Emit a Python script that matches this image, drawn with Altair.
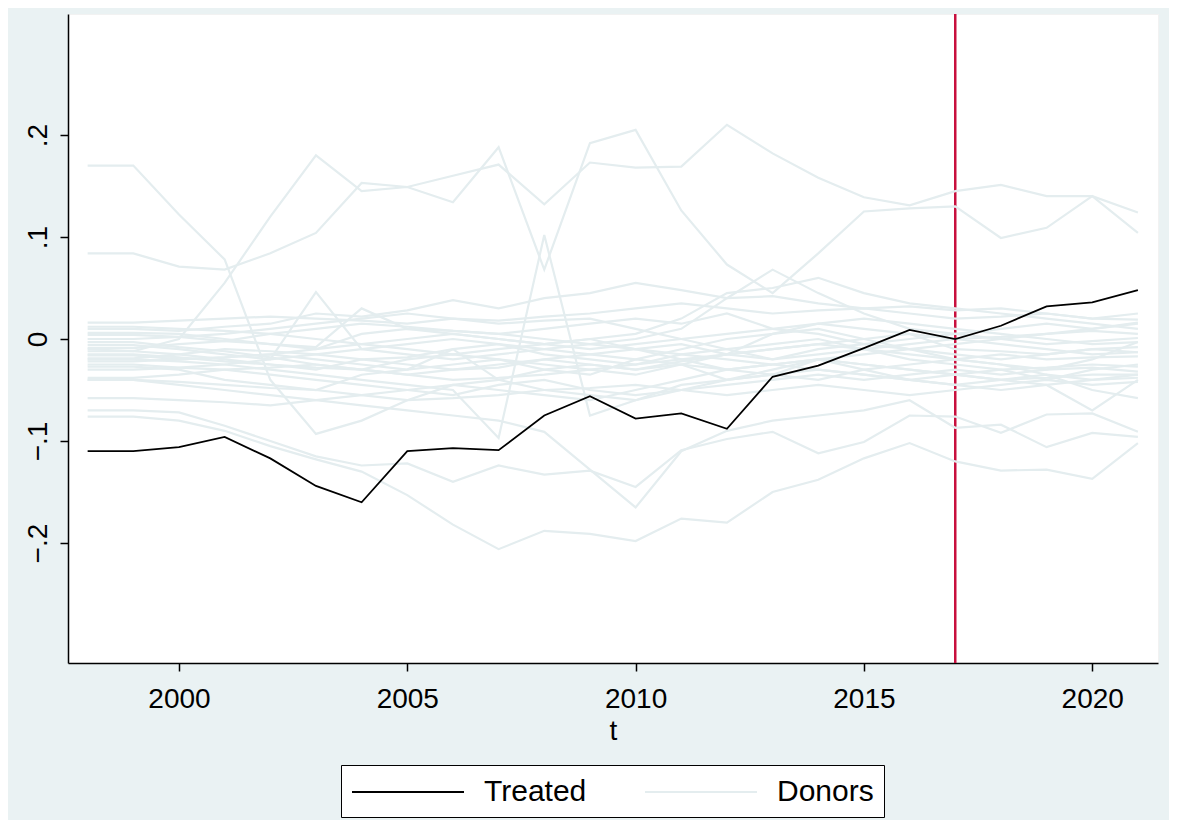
import altair as alt
import pandas as pd

years = list(range(1998, 2022))

treated = [-0.110, -0.110, -0.106, -0.096, -0.117, -0.144, -0.160, -0.110, -0.107, -0.109,
           -0.075, -0.056, -0.078, -0.073, -0.088, -0.037, -0.026, -0.009, 0.009, 0.000,
           0.013, 0.032, 0.036, 0.048]

# donor series (values x 1000)
donors_k = [
    [170, 170, 122, 78, -40, -93, -80, -60, -45, -40, -30, -25, -30, -25, -40, -35, -20, -30, -40, -35, -30, -40, -30, -25],
    [84, 84, 71, 68, 84, 104, 153, 149, 160, 171, 132, 173, 168, 169, 210, 182, 158, 139, 131, 145, 151, 140, 140, 124],
    [-10, -12, 0, 55, 120, 180, 145, 149, 134, 188, 68, 192, 205, 126, 73, 45, 84, 125, 128, 130, 99, 109, 140, 104],
    [-20, -20, -22, -25, -30, -35, -40, -45, -50, -97, 102, -75, -60, -50, -40, -35, -30, -35, -40, -45, -40, -35, -40, -38],
    [-76, -76, -80, -90, -105, -118, -130, -153, -182, -206, -188, -191, -198, -176, -180, -150, -138, -117, -102, -120, -129, -128, -137, -102],
    [-70, -70, -72, -85, -100, -115, -124, -122, -140, -124, -133, -129, -145, -109, -98, -91, -112, -101, -75, -76, -92, -74, -73, -91],
    [-40, -40, -45, -50, -55, -60, -65, -70, -75, -80, -91, -128, -165, -110, -90, -80, -75, -70, -60, -87, -84, -106, -92, -96],
    [16, 16, 18, 20, 22, 20, 18, 15, 20, 18, 22, 25, 30, 35, 30, 25, 28, 30, 25, 20, 22, 25, 20, 25],
    [10, 10, 8, 12, 15, 25, 22, 28, 38, 30, 40, 45, 55, 48, 40, 42, 35, 30, 32, 28, 30, 25, 20, 19],
    [6, 6, 5, 0, -5, -10, 5, 10, 8, 5, 0, -5, -10, -5, -15, -20, -10, -5, 0, 5, 10, 15, 10, 16],
    [-6, -6, -10, -15, -20, 46, -10, -15, -20, -15, -10, -5, 0, 10, 40, 68, 45, 25, 10, 5, 0, -5, -2, 1],
    [-9, -9, -5, -2, 5, 10, 15, 12, 8, 5, 10, 15, 20, 15, 25, 10, 5, -5, -10, -20, -25, -30, -20, -3],
    [-12, -12, -15, -20, -25, -30, -20, -25, -30, -28, -20, -25, -30, -22, -15, -10, -5, 0, 5, -10, -12, -15, -10, -13],
    [-16, -16, -20, -18, -15, -20, -25, -30, -25, -20, -30, -35, -20, -25, -30, -35, -40, -30, -25, -20, -15, -20, -18, -17],
    [-19, -19, -15, -10, -12, -15, -20, -18, -10, -5, -15, -20, -25, -15, -10, -5, 0, -10, -20, -25, -30, -28, -25, -27],
    [-25, -25, -28, -30, -35, -40, -45, -50, -55, -45, -40, -50, -55, -50, -45, -40, -35, -40, -35, -30, -35, -30, -28, -32],
    [-27, -27, -30, -40, -45, -50, -35, -30, -10, -40, -50, -55, -60, -45, -40, -30, -20, -25, -30, -35, -40, -45, -70, -40],
    [-38, -38, -35, -30, -28, -25, -30, -35, -40, -38, -35, -30, -25, -20, -15, -10, -5, -10, -15, -20, -25, -35, -50, -58],
    [-40, -40, -42, -45, -48, -50, -55, -60, -58, -55, -50, -48, -45, -50, -55, -50, -45, -50, -55, -50, -45, -40, -45, -42],
    [-58, -58, -60, -62, -65, -60, -55, -50, -45, -50, -55, -60, -50, -40, -30, -25, -20, -25, -30, -35, -40, -38, -35, -35],
    [0, 0, 2, 5, 10, 15, 20, 25, 20, 15, 18, 20, 10, 0, -10, -20, -15, -10, -5, 0, 2, 5, 8, 5],
    [-3, -3, -8, -12, -18, -25, -30, -20, -15, -20, -25, -30, -35, -25, -15, 5, 10, 0, -10, -15, -20, -15, -10, -8],
    [4, 4, 2, -2, -5, -8, 30, 10, 5, 0, -5, 0, 5, 20, 45, 50, 60, 45, 35, 30, 25, 20, 15, 10],
    [-30, -30, -28, -25, -20, -15, -10, -5, 0, -5, -10, -15, -20, -10, 0, 5, 15, 10, 5, 0, -5, -10, -15, -13],
    [-15, -15, -18, -22, -25, -28, -30, -35, -30, -25, -20, -15, -10, -15, -20, -25, -30, -35, -40, -45, -50, -45, -40, -35],
    [-22, -22, -20, -18, -15, -10, -5, 0, 5, 0, -5, -10, -5, 0, 5, 10, 15, 20, 15, 10, 5, 0, -5, -3],
    [12, 12, 10, 8, 5, 0, -5, -10, -15, -10, -5, 0, -10, -20, -30, -25, -20, -15, -10, -5, 0, 5, 10, 15],
]

treat_year = [2017]
y_ticks = [-0.2, -0.1, 0, 0.1, 0.2]
x_ticks = [2000, 2005, 2010, 2015, 2020]

rows = []
for i, series in enumerate(donors_k):
    for yr, v in zip(years, series):
        rows.append({"t": yr, "v": v / 1000.0, "unit": f"d{i}", "group": "Donors"})
donor_df = pd.DataFrame(rows)
treat_df = pd.DataFrame({"t": years, "v": treated, "unit": "treated", "group": "Treated"})
vline_df = pd.DataFrame({"t": treat_year})

FONT = "Liberation Sans"
FS = 28
x_scale = alt.Scale(domain=[1997.57, 2021.44], nice=False, zero=False)
y_scale = alt.Scale(domain=[-0.3176, 0.3186], nice=False, zero=False)

color = alt.Color(
    "group:N",
    scale=alt.Scale(domain=["Treated", "Donors"], range=["#000000", "#E4EDEF"]),
    legend=alt.Legend(
        title=None, orient="none", direction="horizontal",
        legendX=273, legendY=751,
        symbolType="M-1,0L6,0", symbolSize=1024, symbolStrokeWidth=1.8,
        labelFontSize=30, labelFont=FONT, labelColor="black",
        strokeColor="black", fillColor="white", padding=10,
        columnPadding=54, labelOffset=99, symbolOffset=0,
    ),
)

xax = alt.Axis(values=x_ticks, format="d", title="t", labelFontSize=FS, titleFontSize=FS,
               labelFont=FONT, titleFont=FONT, labelColor="black", titleColor="black",
               titleFontWeight="normal",
               domainColor="black", tickColor="black", tickSize=8, labelPadding=14,
               titlePadding=4, grid=False, domainWidth=1.5, tickWidth=1.5)
yax = alt.Axis(values=y_ticks,
               labelExpr="datum.value == 0 ? '0' : replace(format(datum.value, '.1f'), '0.', '.')",
               title=None, labelFontSize=FS, labelFont=FONT, labelColor="black",
               labelAngle=-90, labelAlign="center", labelBaseline="bottom",
               domainColor="black", tickColor="black", tickSize=8, labelPadding=8,
               grid=False, domainWidth=1.5, tickWidth=1.5)

rule = alt.Chart(vline_df).mark_rule(color="#C8103E", strokeWidth=2.5).encode(
    x=alt.X("t:Q", scale=x_scale, axis=xax)
)

donor_lines = alt.Chart(donor_df).mark_line(strokeWidth=2.2, clip=True).encode(
    x=alt.X("t:Q", scale=x_scale, axis=xax),
    y=alt.Y("v:Q", scale=y_scale, axis=yax),
    color=color,
    detail="unit:N",
)

treat_line = alt.Chart(treat_df).mark_line(strokeWidth=1.8).encode(
    x=alt.X("t:Q", scale=x_scale, axis=xax),
    y=alt.Y("v:Q", scale=y_scale, axis=yax),
    color=color,
)

chart = alt.layer(rule, donor_lines, treat_line).properties(
    width=1090, height=649,
    background="#EAF2F3",
    autosize=alt.AutoSizeParams(type="none"),
    padding={"left": 60, "top": 6, "right": 11, "bottom": 157},
).configure_view(fill="white", stroke="#F2F2F2", strokeWidth=1)

chart.save("out.html", embed_options={"renderer": "svg", "actions": False})
